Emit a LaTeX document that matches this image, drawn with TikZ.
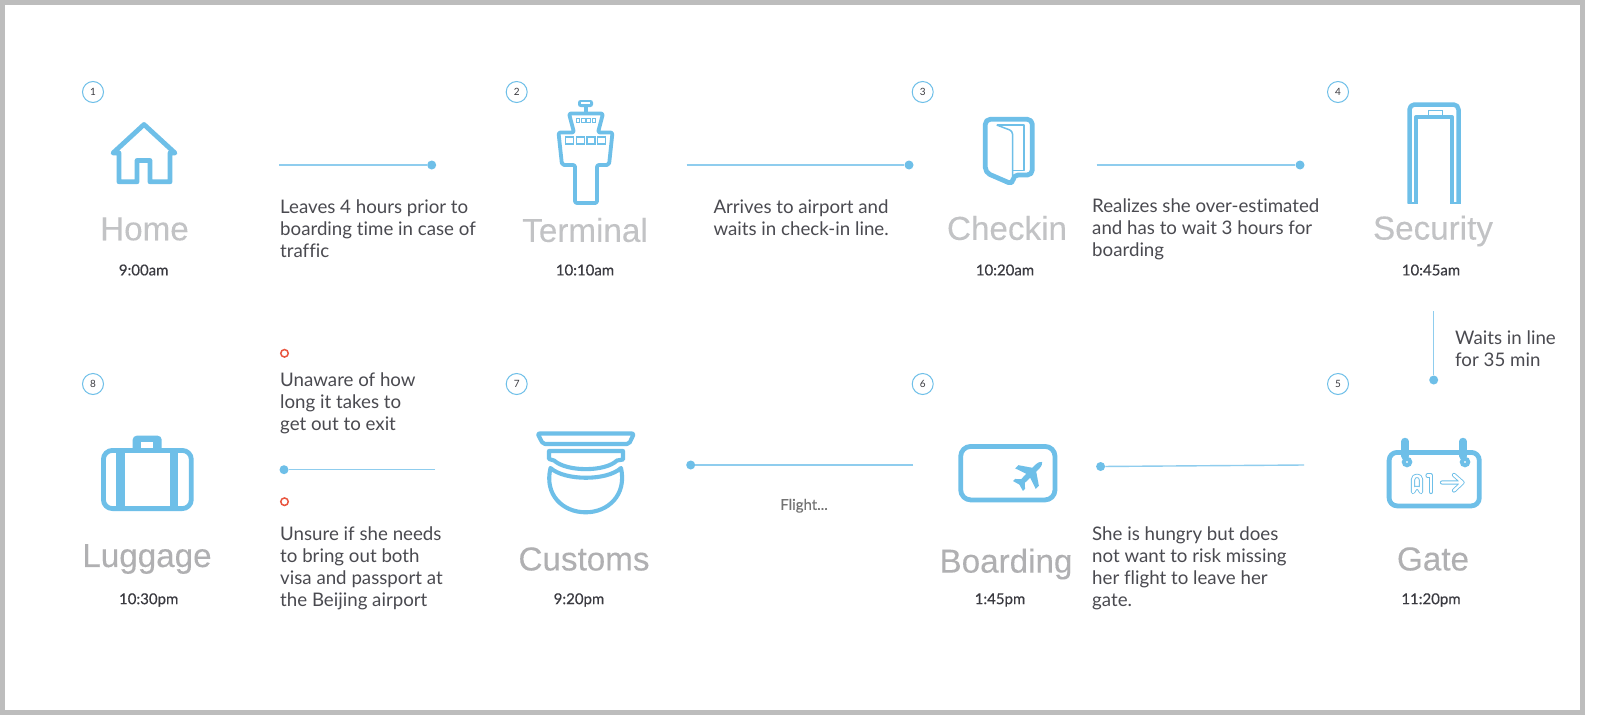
\documentclass[tikz,border=0pt]{standalone}
\usepackage{fontspec}
\setmainfont[Ligatures=NoCommon]{Lato}
\newfontfamily\titlefont[FakeBold=0.15]{Liberation Sans}
\newfontfamily\timefont[FakeBold=0.35,Ligatures=NoCommon]{Lato}
\definecolor{iconblue}{HTML}{6EBFE8}
\definecolor{linkblue}{HTML}{8FCDEE}
\definecolor{framegray}{HTML}{BDBDBD}
\definecolor{toptitle}{HTML}{C2C3C5}
\definecolor{bottitle}{HTML}{B0B0B2}
\definecolor{bodytext}{HTML}{4A4A50}
\definecolor{timetext}{HTML}{3A3A40}
\definecolor{redring}{HTML}{E9553F}
\tikzset{
  icon/.style={draw=iconblue,line width=4.8pt,line join=round},
  thinicon/.style={draw=iconblue,line width=1.5pt,line join=round},
  outl/.style={draw=iconblue,line width=0.9pt,double=white,double distance=2.4pt,line join=round,line cap=round},
  numring/.style={circle,draw=iconblue,line width=1pt,minimum size=21pt,inner sep=0pt,text=timetext,font=\fontsize{10}{11}\selectfont},
  titlelab/.style={font=\titlefont\fontsize{33.2}{36}\selectfont,inner sep=0pt},
  timelab/.style={font=\timefont\fontsize{15}{17}\selectfont,text=timetext,inner sep=0pt},
  desc/.style={anchor=west,align=left,inner sep=0pt,text=bodytext,font=\fontsize{18.7}{22}\selectfont},
  dotend/.style={circle,fill=iconblue,minimum size=9pt,inner sep=0pt},
  conn/.style={draw=linkblue,line width=1.4pt},
  redmark/.style={circle,draw=redring,line width=1.5pt,minimum size=7.5pt,inner sep=0pt}
}
\begin{document}
\begin{tikzpicture}[x=1pt,y=-1pt]
\useasboundingbox (0,0) rectangle (1600,715);
\fill[white] (0,0) rectangle (1600,715);
\fill[framegray] (0,0) rectangle (1584.5,715);
\fill[white] (4.5,4.5) rectangle (1580,710);

% numbers
\node[numring] (n1) at (93,92) {1};
\node[numring] (n2) at (516.7,92) {2};
\node[numring] (n3) at (922.7,92) {3};
\node[numring] (n4) at (1338,92) {4};
\node[numring] (n5) at (1338,384) {5};
\node[numring] (n6) at (922.7,384) {6};
\node[numring] (n7) at (516.7,384) {7};
\node[numring] (n8) at (93,384) {8};

% titles
\node[titlelab,text=toptitle] (t1) at (144.5,229) {Home};
\node[titlelab,text=toptitle] (t2) at (585,230) {Terminal};
\node[titlelab,text=toptitle] (t3) at (1007,228) {Checkin};
\node[titlelab,text=toptitle] (t4) at (1433,231) {Security};
\node[titlelab,text=bottitle] (t5) at (1433,559) {Gate};
\node[titlelab,text=bottitle] (t6) at (1006,564) {Boarding};
\node[titlelab,text=bottitle] (t7) at (584,559) {Customs};
\node[titlelab,text=bottitle] (t8) at (147,559) {Luggage};

% times
\node[timelab] (c1) at (143.7,270) {9:00am};
\node[timelab] (c2) at (585,270) {10:10am};
\node[timelab] (c3) at (1005,270) {10:20am};
\node[timelab] (c4) at (1431,270) {10:45am};
\node[timelab] (c5) at (1431,600) {11:20pm};
\node[timelab] (c6) at (1000,600) {1:45pm};
\node[timelab] (c7) at (579,600) {9:20pm};
\node[timelab] (c8) at (148.7,600) {10:30pm};

% descriptions
\node[desc] (d1) at (280,229) {Leaves 4 hours prior to\\boarding time in case of\\traffic};
\node[desc] (d2) at (713.3,218) {Arrives to airport and\\waits in check-in line.};
\node[desc] (d3) at (1092,229) {Realizes she over-estimated\\and has to wait 3 hours for\\boarding};
\node[desc] (d4) at (1455,348.5) {Waits in line\\for 35 min};
\node[desc] (d5) at (1092,568) {She is hungry but does\\not want to risk missing\\her flight to leave her\\gate.};
\node[desc] (d6) at (280,403) {Unaware of how\\long it takes to\\get out to exit};
\node[desc] (d7) at (280,568) {Unsure if she needs\\to bring out both\\visa and passport at\\the Beijing airport};
\node[inner sep=0pt,text=black!55,font=\timefont\fontsize{15}{16}\selectfont] (d8) at (804,505.7) {Flight...};

% connectors
\node[dotend] (e1) at (431.7,165) {};
\coordinate (s1) at (279,165);
\draw[conn] (s1) -- (e1);
\node[dotend] (e2) at (909,165) {};
\coordinate (s2) at (686.7,165);
\draw[conn] (s2) -- (e2);
\node[dotend] (e3) at (1300,165) {};
\coordinate (s3) at (1096.7,165);
\draw[conn] (s3) -- (e3);
\node[dotend] (e4) at (1433.7,380) {};
\coordinate (s4) at (1433.7,311);
\draw[conn] (s4) -- (e4);
\node[dotend] (e5) at (1100.6,466.5) {};
\coordinate (s5) at (1304,465);
\draw[conn] (s5) -- (e5);
\node[dotend] (e6) at (690.7,465) {};
\coordinate (s6) at (913,465);
\draw[conn] (s6) -- (e6);
\node[dotend] (e7) at (284,469.7) {};
\coordinate (s7) at (435,469.7);
\draw[conn] (s7) -- (e7);

\node[redmark] (r1) at (284.5,353.3) {};
\node[redmark] (r2) at (284.5,501.7) {};

% home
\draw[icon] (113,153) -- (144,124.5) -- (175,153) -- (170,153) -- (170,181.8) -- (150,181.8) -- (150,160.5) -- (137,160.5) -- (137,181.8) -- (119,181.8) -- (119,153) -- cycle;

% tower
\fill[iconblue,rounded corners=2.5pt] (578,100) rectangle (593,107);
\fill[white] (581,102) rectangle (590,104);
\fill[iconblue] (583.5,106) rectangle (587.5,113);
\draw[icon,line width=3.8pt,rounded corners=2pt] (574,132.5) -- (569,113.5) -- (603,113.5) -- (598,132.5) -- (612.5,132.5) -- (609,165) -- (597,165) -- (597,203) -- (575,203) -- (575,165) -- (562,165) -- (558.5,132.5) -- cycle;
\foreach \wx in {576.5,581.7,586.9,592.1}
  \draw[iconblue,line width=1pt] (\wx,118) rectangle +(3.4,4.2);
\foreach \wx in {565.5,576.3,587,597.8}
  \draw[iconblue,line width=1.1pt] (\wx,137) rectangle +(8,7);

% checkin
\draw[icon,rounded corners=5pt] (1013,175) -- (1032.3,175) -- (1032.3,119.3) -- (985.3,119.3) -- (985.3,172.5) -- (1013,184.5) -- cycle;
\draw[thinicon] (996.7,125) -- (1024,125) -- (1024,170.7) -- (1013,170.7);
\draw[thinicon,rounded corners=3pt] (996.7,125) -- (1012.5,131) -- (1012.5,176);

% security
\draw[icon,line width=4.5pt,rounded corners=5pt] (1409.5,203.5) -- (1409.5,104.5) -- (1458.5,104.5) -- (1458.5,203.5);
\draw[icon,line width=4pt] (1416,203.5) -- (1416,117) -- (1452,117) -- (1452,203.5);
\draw[icon,line width=2pt] (1407.5,202.5) -- (1417,202.5) (1451,202.5) -- (1460.5,202.5);
\draw[iconblue,line width=1pt] (1428,110) rectangle (1442,115);

% gate
\draw[icon,rounded corners=8pt] (1389.1,452.4) rectangle (1479.3,505.9);
\foreach \gx in {1405,1463}{
  \draw[iconblue,line width=7.5pt,line cap=round] (\gx,441.5) -- (\gx,456);
  \draw[iconblue,line width=4pt] (\gx+2,462) circle (3.2);
}
\draw[outl] (1413,492) -- (1413,479.5) .. controls (1413,474.5) and (1421,474.5) .. (1421,479.5) -- (1421,492) -- (1418.7,488) -- (1415.5,488) -- cycle;
\draw[outl] (1427.5,475.5) -- (1431,475.5) -- (1431,492);
\draw[outl] (1442,482.5) -- (1462.5,482.5) (1454,475) -- (1462.5,482.5) -- (1454,490.5);

% boarding
\draw[icon,rounded corners=10pt] (960.7,446.4) rectangle (1055,499.9);
\begin{scope}[shift={(1030,474)},rotate=-45]
\fill[iconblue] (0,-17) .. controls (2.8,-15) and (2.8,-12) .. (2.8,-6) -- (14.5,2) -- (14.5,6.5) -- (2.8,2.5) -- (2.6,10) -- (7,14) -- (7,17) -- (0,15) -- (-7,17) -- (-7,14) -- (-2.6,10) -- (-2.8,2.5) -- (-14.5,6.5) -- (-14.5,2) -- (-2.8,-6) .. controls (-2.8,-12) and (-2.8,-15) .. (0,-17) -- cycle;
\end{scope}

% customs
\draw[icon,line width=4.1pt,rounded corners=2pt] (537.5,433.5) -- (634,433.5) -- (629,444) -- (543,444) -- cycle;
\draw[icon,line width=4.1pt] (549,451) -- (623,451) -- (623,459.5) -- (617,460.5) .. controls (605,472) and (567,472) .. (554,460.5) -- (549,459) -- cycle;
\draw[icon,line width=4.1pt] (550.5,468) .. controls (565,481) and (607,481) .. (621,468) .. controls (627,495) and (608,512.3) .. (585.7,512.3) .. controls (563,512.3) and (544,495) .. (550.5,468) -- cycle;

% luggage
\draw[icon,rounded corners=9pt] (103.4,450.4) rectangle (191.3,508.6);
\fill[iconblue] (116,449) rectangle (124.7,511);
\fill[iconblue] (170,449) rectangle (178.3,511);
\fill[iconblue,rounded corners=4pt] (132.7,435.7) rectangle (161.7,452);
\fill[white] (141,442.3) rectangle (153,447.7);
\end{tikzpicture}
\end{document}
